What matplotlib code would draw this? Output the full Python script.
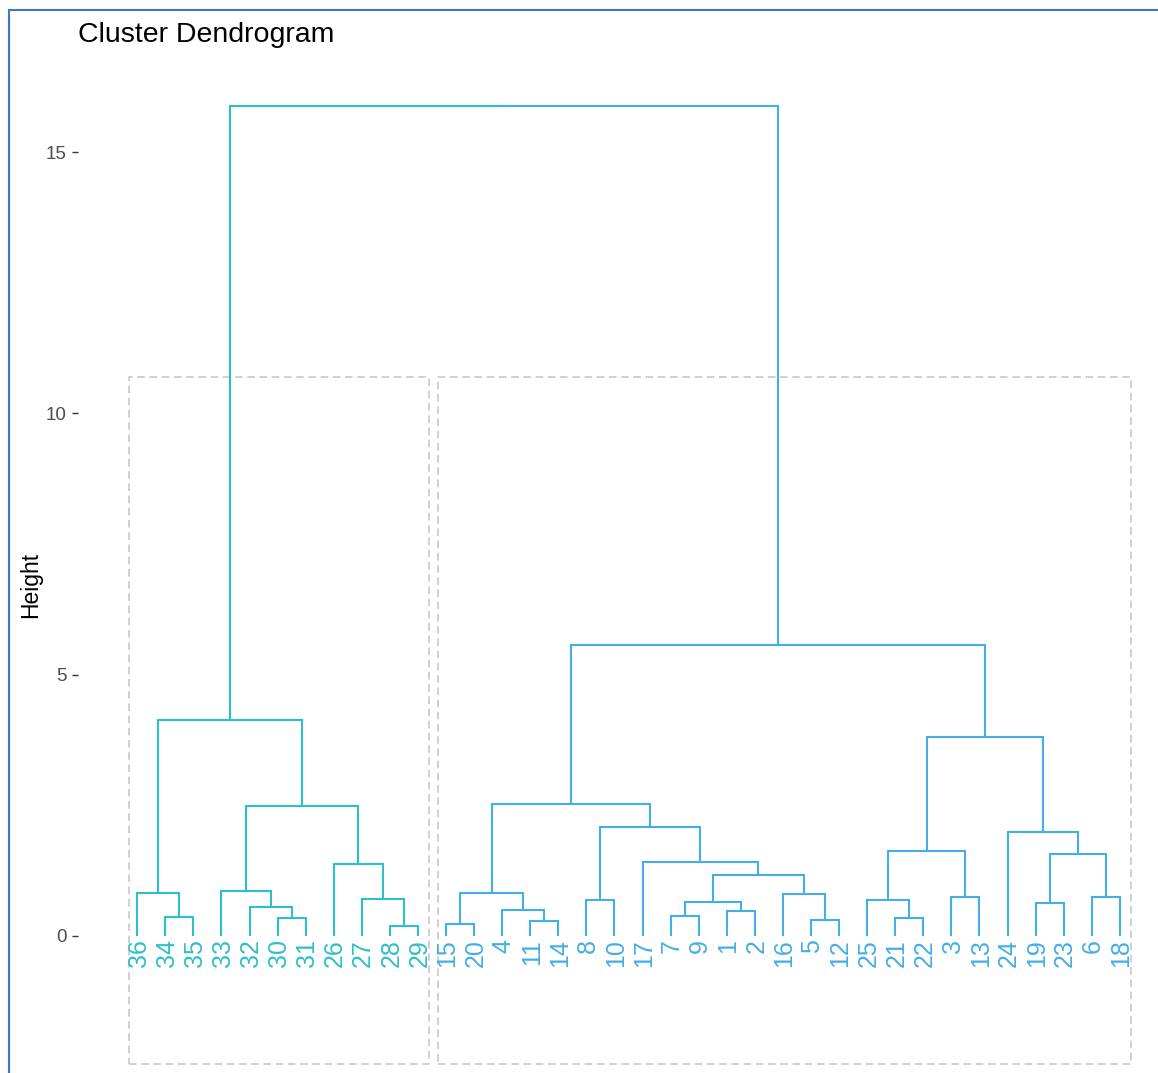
import numpy as np
import matplotlib
matplotlib.use("Agg")
import matplotlib.pyplot as plt
from matplotlib.lines import Line2D

# leaf order along the x axis (left to right)
leaf_order = [36, 34, 35, 33, 32, 30, 31, 26, 27, 28, 29,
              15, 20, 4, 11, 14, 8, 10, 17, 7, 9, 1, 2, 16, 5, 12,
              25, 21, 22, 3, 13, 24, 19, 23, 6, 18]

# merges in R hclust style: negative = leaf label, positive = earlier merge row (1-based)
merge_a = [-34, -36, -30, -32, -33, -28, -27, -26, 5, 2,
           -15, -11, -4, 11, -8, -7, -1, 16, -5, -16, 18, -17, 15, 14,
           -21, -25, -3, 26, -19, -6, 29, -24, 28, 24, 10]
merge_b = [-35, 1, -31, 3, 4, -29, 6, 7, 8, 9,
           -20, -14, 12, 13, -10, -9, -2, 17, -12, 19, 20, 21, 22, 23,
           -22, 25, -13, 27, -23, -18, 30, 31, 32, 33, 34]
merge_h = [0.37, 0.83, 0.34, 0.55, 0.86, 0.19, 0.71, 1.38, 2.48, 4.13,
           0.22, 0.28, 0.49, 0.83, 0.68, 0.38, 0.47, 0.65, 0.31, 0.80, 1.17, 1.42, 2.09, 2.52,
           0.34, 0.68, 0.74, 1.62, 0.62, 0.74, 1.56, 1.99, 3.80, 5.57, 15.88]

cluster_leaves = [[26, 27, 28, 29, 30, 31, 32, 33, 34, 35, 36],
                  [1, 2, 3, 4, 5, 6, 7, 8, 9, 10, 11, 12, 13, 14, 15, 16, 17, 18,
                   19, 20, 21, 22, 23, 24, 25]]
cluster_colors = ["#2EBFC8", "#44AEE6"]

yticks = [0, 5, 10, 15]

W, H = 1158, 1073
fig = plt.figure(figsize=(W / 100, H / 100), dpi=100)
plt.rcParams['font.family'] = ['Liberation Sans', 'DejaVu Sans']

ax = fig.add_axes([78 / W, 1 - 1112 / H, 1103 / W, 1054 / H])
ax.set_xlim(-1.11, 38.18)
ax.set_ylim(-3.37, 16.80)

leaf_x = {lab: i + 1 for i, lab in enumerate(leaf_order)}
leaf_col = {}
for ci, labs in enumerate(cluster_leaves):
    for lab in labs:
        leaf_col[lab] = cluster_colors[ci]

node_x, node_h, node_c = {}, {}, {}


def child_info(ref):
    if ref < 0:
        lab = -ref
        return leaf_x[lab], 0.0, leaf_col[lab]
    return node_x[ref], node_h[ref], node_c[ref]


for row, (a, b, h) in enumerate(zip(merge_a, merge_b, merge_h), start=1):
    xa, ha, ca = child_info(a)
    xb, hb, cb = child_info(b)
    xm = (xa + xb) / 2
    for xc, hc, cc in [(xa, ha, ca), (xb, hb, cb)]:
        ax.plot([xc, xc, xm], [hc, h, h], color=cc, lw=1.5,
                solid_joinstyle='miter', solid_capstyle='butt', zorder=3)
    node_x[row], node_h[row] = xm, h
    node_c[row] = ca if ca == cb else None

# leaf labels
for lab in leaf_order:
    ax.text(leaf_x[lab] + 0.05, -0.06, str(lab), rotation=90, ha='center', va='top',
            fontsize=18, color=leaf_col[lab])

# dashed cluster rectangles
for labs in cluster_leaves:
    xs = [leaf_x[l] for l in labs]
    x0, x1 = min(xs) - 0.3, max(xs) + 0.4
    ax.plot([x0, x1, x1, x0, x0], [-2.45, -2.45, 10.69, 10.69, -2.45],
            color="#C4C4C4", lw=1.1, ls=(0, (5, 3)), zorder=2)

for s in ax.spines.values():
    s.set_visible(False)
ax.set_xticks([])
ax.set_yticks(yticks)
ax.tick_params(axis='y', length=4, width=1, color="#333333", pad=4,
               labelsize=13.5, labelcolor="#4D4D4D")

fig.text(78 / W, 1 - 41.7 / H, "Cluster Dendrogram", fontsize=20.5,
         va='baseline', ha='left', color='black')
fig.text(31 / W, 1 - 585 / H, "Height", fontsize=16.5, rotation=90,
         va='center', ha='center', color='black')

# screenshot border
fig.add_artist(Line2D([8.5 / W, 8.5 / W], [1 - 10 / H, 0], color="#4472C4", lw=1.5,
                      transform=fig.transFigure))
fig.add_artist(Line2D([8.5 / W, 1], [1 - 10 / H, 1 - 10 / H], color="#4472C4", lw=1.5,
                      transform=fig.transFigure))

fig.savefig("out.png", dpi=100)
